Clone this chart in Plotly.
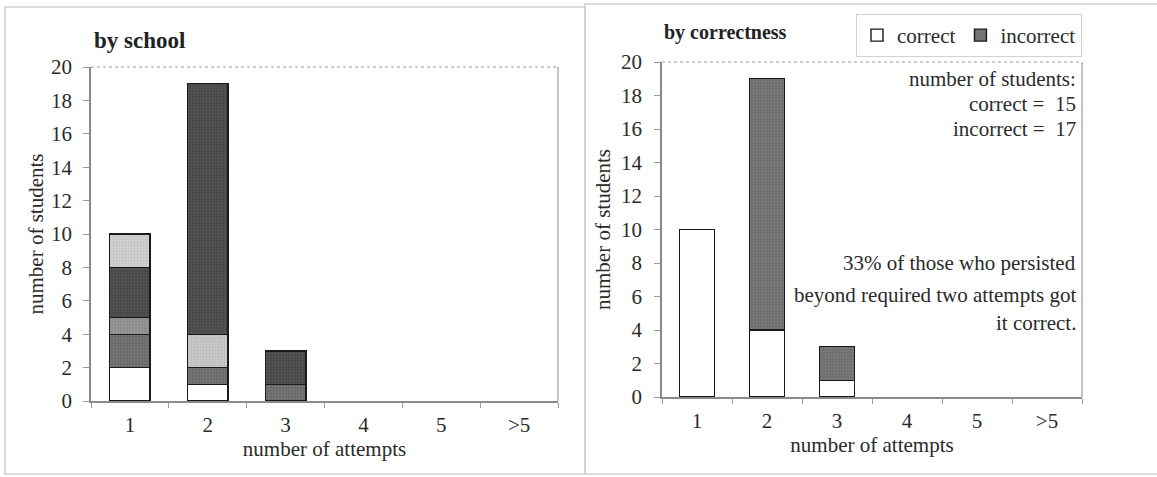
import plotly.graph_objects as go

W, H = 1157, 477

categories = ["1", "2", "3", "4", "5", "&gt;5"]

# left panel: "by school" (stacked segments, bottom to top)
school_white = [2, 1, 0, 0, 0, 0]
school_medium = [2, 1, 1, 0, 0, 0]
school_midlight = [1, 0, 0, 0, 0, 0]
school_light_a = [0, 2, 0, 0, 0, 0]
school_dark = [3, 15, 2, 0, 0, 0]
school_light_b = [2, 0, 0, 0, 0, 0]

# right panel: "by correctness"
correct = [10, 4, 1, 0, 0, 0]
incorrect = [0, 15, 2, 0, 0, 0]

yticks = [0, 2, 4, 6, 8, 10, 12, 14, 16, 18, 20]

FONT = "Liberation Serif"
OUT = "#1a1a1a"
TXT = "#2a2a2a"
FS = 21


def px(x):
    return x / W


def py(y):
    return 1 - y / H


def nz(vals):
    # empty segments are not drawn
    return [v if v else None for v in vals]


def stipple(bg, fg):
    return dict(shape=".", bgcolor=bg, fgcolor=fg, size=3, solidity=0.35, fillmode="replace")


fig = go.Figure()

school_series = [
    (school_white, "#ffffff", None),
    (school_medium, "#6a6a6a", "#7c7c7c"),
    (school_midlight, "#8c8c8c", "#9c9c9c"),
    (school_light_a, "#c9c9c9", "#b8b8b8"),
    (school_dark, "#474747", "#5a5a5a"),
    (school_light_b, "#d2d2d2", "#c0c0c0"),
]
for i, (vals, col, fg) in enumerate(school_series):
    marker = dict(color=col, line=dict(color=OUT, width=1.4))
    if fg:
        marker["pattern"] = stipple(col, fg)
    fig.add_trace(go.Bar(
        x=categories, y=nz(vals), xaxis="x", yaxis="y",
        marker=marker, showlegend=False, name=f"school {i+1}", width=0.52,
    ))

fig.add_trace(go.Bar(
    x=categories, y=nz(correct), xaxis="x2", yaxis="y2", name="correct",
    marker=dict(color="#ffffff", line=dict(color=OUT, width=1.4)), width=0.5,
))
fig.add_trace(go.Bar(
    x=categories, y=nz(incorrect), xaxis="x2", yaxis="y2", name="incorrect",
    marker=dict(color="#6e6e6e", line=dict(color=OUT, width=1.4),
                pattern=stipple("#6e6e6e", "#808080")), width=0.5,
))

tfont = dict(family=FONT, size=FS, color=TXT)

axis_common_x = dict(
    type="category", categoryorder="array", categoryarray=categories,
    showline=True, linecolor="#8a8a8a", linewidth=1.5,
    ticks="outside", tickson="boundaries", ticklen=5, tickcolor="#9a9a9a",
    tickfont=tfont,
    showgrid=False, zeroline=False, automargin=False,
    ticklabelstandoff=4,
)
axis_common_y = dict(
    range=[0, 20], tickvals=yticks,
    showline=True, linecolor="#8a8a8a", linewidth=1.5,
    ticks="outside", ticklen=6, tickcolor="#9a9a9a",
    tickfont=tfont,
    showgrid=False, zeroline=False, automargin=False,
)

fig.update_layout(
    width=W, height=H,
    margin=dict(l=0, r=0, t=0, b=0),
    paper_bgcolor="white", plot_bgcolor="white",
    barmode="stack",
    xaxis=dict(axis_common_x, domain=[px(91), px(558)], anchor="y",
               title=dict(text="number of attempts", font=tfont, standoff=0)),
    yaxis=dict(axis_common_y, domain=[py(401), py(67)], anchor="x", ticklabelstandoff=7,
               title=dict(text="number of students", font=tfont, standoff=2)),
    xaxis2=dict(axis_common_x, domain=[px(662), px(1082)], anchor="y2",
                title=dict(text="number of attempts", font=tfont, standoff=0)),
    yaxis2=dict(axis_common_y, domain=[py(397), py(62)], anchor="x2", ticklabelstandoff=8,
                title=dict(text="number of students", font=tfont, standoff=5)),
    legend=dict(
        orientation="h", x=px(1082), xanchor="right", y=py(14), yanchor="top",
        bordercolor="#d0d0d0", borderwidth=1, bgcolor="white",
        font=dict(family=FONT, size=FS, color=TXT),
        itemwidth=30, traceorder="normal", tracegroupgap=0,
    ),
    showlegend=True,
)

shapes = [
    # panel frames
    dict(type="rect", xref="paper", yref="paper", x0=px(5), x1=px(585), y0=py(474), y1=py(7),
         line=dict(color="#cfcfcf", width=1.5)),
    dict(type="rect", xref="paper", yref="paper", x0=px(585), x1=px(1160), y0=py(474), y1=py(4),
         line=dict(color="#cfcfcf", width=1.5)),
    # plot area top and right borders
    dict(type="line", xref="x domain", yref="y domain", x0=0, x1=1, y0=1, y1=1,
         line=dict(color="#9a9a9a", width=1, dash="dot")),
    dict(type="line", xref="x domain", yref="y domain", x0=1, x1=1, y0=0, y1=1,
         line=dict(color="#9a9a9a", width=1.2)),
    dict(type="line", xref="x2 domain", yref="y2 domain", x0=0, x1=1, y0=1, y1=1,
         line=dict(color="#9a9a9a", width=1, dash="dot")),
    dict(type="line", xref="x2 domain", yref="y2 domain", x0=1, x1=1, y0=0, y1=1,
         line=dict(color="#9a9a9a", width=1.2)),
]
fig.update_layout(shapes=shapes)

ann_font = dict(family=FONT, size=FS, color=TXT)
annotations = [
    dict(text="<b>by school</b>", x=px(92), y=py(40), xref="paper", yref="paper",
         xanchor="left", yanchor="middle", showarrow=False,
         font=dict(family=FONT, size=23, color="#222")),
    dict(text="<b>by correctness</b>", x=px(662), y=py(33), xref="paper", yref="paper",
         xanchor="left", yanchor="middle", showarrow=False,
         font=dict(family=FONT, size=20, color="#222")),
    dict(text="number of students:", x=px(1078), y=py(79), xref="paper", yref="paper",
         xanchor="right", yanchor="middle", showarrow=False, font=ann_font),
    dict(text=f"correct =  {sum(correct)}", x=px(1078), y=py(104), xref="paper", yref="paper",
         xanchor="right", yanchor="middle", showarrow=False, font=ann_font),
    dict(text=f"incorrect =  {sum(incorrect)}", x=px(1078), y=py(129), xref="paper", yref="paper",
         xanchor="right", yanchor="middle", showarrow=False, font=ann_font),
    dict(text="33% of those who persisted", x=px(1078), y=py(263), xref="paper", yref="paper",
         xanchor="right", yanchor="middle", showarrow=False, font=ann_font),
    dict(text="beyond required two attempts got", x=px(1078), y=py(295), xref="paper", yref="paper",
         xanchor="right", yanchor="middle", showarrow=False, font=ann_font),
    dict(text="it correct.", x=px(1078), y=py(323), xref="paper", yref="paper",
         xanchor="right", yanchor="middle", showarrow=False, font=ann_font),
]
fig.update_layout(annotations=annotations)

# remove the page's default body margin so the figure fills the window exactly
fig.write_html("out.html", config={"displayModeBar": False},
               post_script="document.body.style.margin='0';")
